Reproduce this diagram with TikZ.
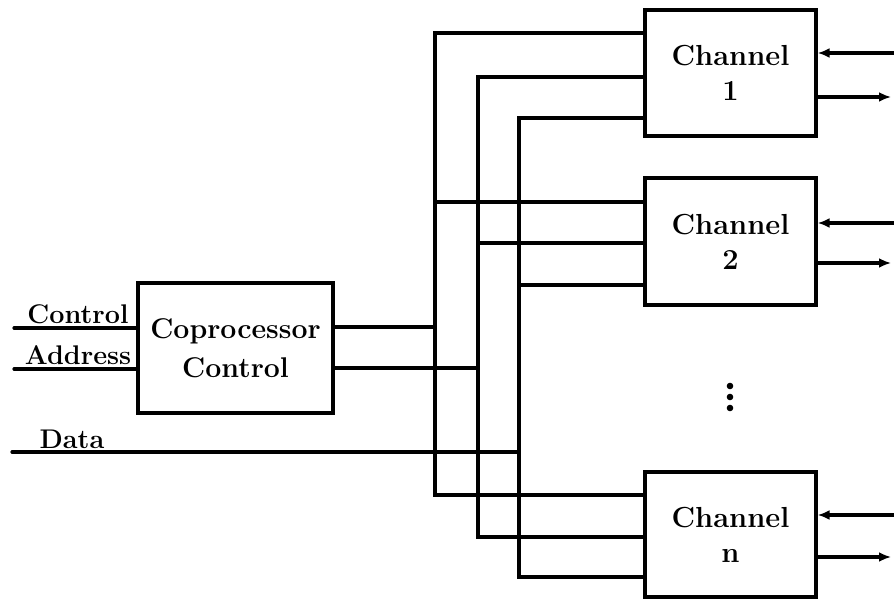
\documentclass[tikz,border=0pt]{standalone}
\usetikzlibrary{arrows.meta}
\begin{document}
\begin{tikzpicture}[x=1pt,y=-1pt,
  wire/.style={line width=3.2pt,line cap=round,line join=miter},
  blk/.style={draw,line width=3.2pt,rectangle,inner sep=0pt,align=center,
    font=\fontsize{29}{35}\selectfont\bfseries},
  lbl/.style={anchor=base,inner sep=0pt,font=\fontsize{27}{30}\selectfont\bfseries},
  arr/.style={wire,-{Latex[length=12pt,width=10pt]}}]
\useasboundingbox (0,0) rectangle (894,601);
% blocks
\node[blk,minimum width=195pt,minimum height=130pt,font=\fontsize{28.5}{39}\selectfont\bfseries] (cop) at (235.5,348) {Coprocessor\\Control};
\node[blk,minimum width=171pt,minimum height=126pt] (ch1) at (730.5,73) {Channel\\1};
\node[blk,minimum width=171pt,minimum height=127pt] (ch2) at (730.5,241.5) {Channel\\2};
\node[blk,minimum width=171pt,minimum height=125pt] (chn) at (730.5,534.5) {Channel\\n};
% bus coordinates
\coordinate (b1t) at (435,33);  \coordinate (b1b) at (435,495);
\coordinate (b2t) at (478,77);  \coordinate (b2b) at (478,537);
\coordinate (b3t) at (519,118); \coordinate (b3b) at (519,577);
% bus
\draw[wire] (ch1.west |- b1t) -- (b1t) -- (b1b) -- (chn.west |- b1b);
\draw[wire] (ch1.west |- b2t) -- (b2t) -- (b2b) -- (chn.west |- b2b);
\draw[wire] (ch1.west |- b3t) -- (b3t) -- (b3b) -- (chn.west |- b3b);
\coordinate (c2a) at (435,202); \coordinate (c2b) at (478,243); \coordinate (c2c) at (519,285);
\draw[wire] (c2a) -- (ch2.west |- c2a);
\draw[wire] (c2b) -- (ch2.west |- c2b);
\draw[wire] (c2c) -- (ch2.west |- c2c);
% coprocessor outputs
\coordinate (o1) at (435,327); \coordinate (o2) at (478,368);
\draw[wire] (cop.east |- o1) -- (o1);
\draw[wire] (cop.east |- o2) -- (o2);
% inputs
\coordinate (ctl) at (14,328); \coordinate (adr) at (14,369);
\coordinate (dat) at (12,452); \coordinate (datE) at (519,452);
\draw[wire] (ctl) -- (cop.west |- ctl);
\draw[wire] (adr) -- (cop.west |- adr);
\draw[wire] (dat) -- (datE);
\node[lbl] (tctl) at (78,324) {Control};
\node[lbl] (tadr) at (78,365) {Address};
\node[lbl] (tdat) at (72,448) {Data};
% right side arrows
\coordinate (i1) at (894,53);  \coordinate (x1) at (891,97);
\coordinate (i2) at (894,223); \coordinate (x2) at (891,263);
\coordinate (i3) at (894,515); \coordinate (x3) at (891,557);
\draw[arr] (i1) -- (ch1.east |- i1);
\draw[arr] (ch1.east |- x1) -- (x1);
\draw[arr] (i2) -- (ch2.east |- i2);
\draw[arr] (ch2.east |- x2) -- (x2);
\draw[arr] (i3) -- (chn.east |- i3);
\draw[arr] (chn.east |- x3) -- (x3);
% ellipsis dots
\fill (730,386) circle (3.3pt);
\fill (730,397) circle (3.3pt);
\fill (730,408) circle (3.3pt);
\end{tikzpicture}
\end{document}
